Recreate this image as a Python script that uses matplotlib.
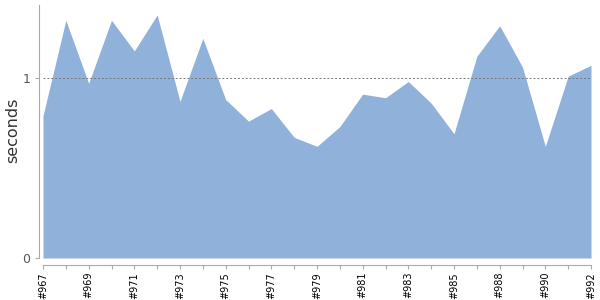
import matplotlib
matplotlib.use("Agg")
import matplotlib.pyplot as plt
import numpy as np

builds = ["#967", "#968", "#969", "#970", "#971", "#972", "#973", "#974", "#975",
          "#976", "#977", "#978", "#979", "#980", "#981", "#982", "#983", "#984",
          "#985", "#986", "#988", "#989", "#990", "#991", "#992"]
seconds = [0.79, 1.32, 0.97, 1.32, 1.15, 1.35, 0.87, 1.22, 0.88,
           0.76, 0.83, 0.67, 0.62, 0.73, 0.91, 0.89, 0.98, 0.86,
           0.69, 1.12, 1.29, 1.06, 0.62, 1.01, 1.07]
yticks = [0, 1]

fig = plt.figure(figsize=(6, 3), dpi=100)
ax = fig.add_axes([43/600, 1-258/300, (591-43)/600, (258-5)/300])
x = np.arange(len(builds))
ax.fill_between(x, 0, seconds, color="#8fb1da", linewidth=0)
ax.axhline(1, color="#777777", linestyle=(0, (2, 2)), linewidth=0.7, zorder=3)
ax.set_xlim(0, len(builds)-1)
ax.set_ylim(0, 1.405)
ax.set_xticks(x)
ax.set_xticklabels([b if i % 2 == 0 else "" for i, b in enumerate(builds)])
ax.set_yticks(yticks)
ax.set_yticklabels([str(t) for t in yticks])
ax.set_ylabel("seconds", fontsize=11.5, color="#333333")
ax.yaxis.set_label_coords((20-43)/548, 0.506)
for s in ["top", "right"]:
    ax.spines[s].set_visible(False)
ax.spines["left"].set_position(("outward", 3))
ax.spines["bottom"].set_position(("outward", 5))
ax.spines["left"].set_color("#aaaaaa")
ax.spines["bottom"].set_color("#aaaaaa")
ax.tick_params(axis="x", length=3, color="#aaaaaa", pad=2, labelrotation=90,
               labelsize=7, labelcolor="black")
ax.tick_params(axis="y", length=3, color="#aaaaaa", pad=3, labelsize=9,
               labelcolor="#555555")
fig.savefig("out.png", dpi=100)
